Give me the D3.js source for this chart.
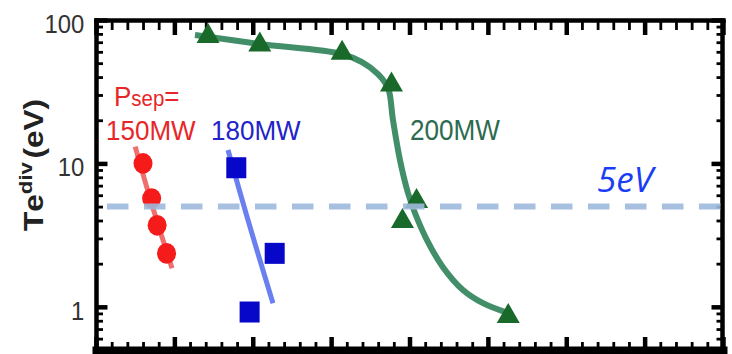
<!DOCTYPE html>
<html>
<head>
<meta charset="utf-8">
<script src="https://cdn.jsdelivr.net/npm/d3@7"></script>
<style>
  body { margin: 0; background: #fff; }
  svg { display: block; }
</style>
</head>
<body>
<svg id="chart" width="732" height="354"></svg>
<script>
// Divertor electron temperature for three separatrix powers (log scale)
const yMajorTicks = [1, 10, 100];
const yTickLabels = ["1", "10", "100"];
const yMinorTicks = [0.6, 0.7, 0.8, 0.9, 2, 3, 4, 5, 6, 7, 8, 9, 20, 30, 40, 50, 60, 70, 80, 90];
const xMajorTicks = [0, 1, 2, 3, 4, 5, 6, 7, 8];

// Psep = 150 MW
const p150X = [0.60, 0.71, 0.78, 0.90];
const p150Y = [10.0, 5.7, 3.7, 2.36];
const p150FitX = [0.50, 0.715, 0.97];
const p150FitY = [13.1, 5.13, 1.86];

// Psep = 180 MW
const p180X = [1.79, 2.28, 1.96];
const p180Y = [9.33, 2.36, 0.92];
const p180FitX = [1.684, 1.939, 2.258];
const p180FitY = [12.4, 4.03, 1.06];

// Psep = 200 MW
const p200X = [1.43, 2.09, 3.14, 3.77, 4.09, 3.91, 5.26];
const p200Y = [76.9, 67.2, 58.9, 35.4, 5.44, 3.95, 0.86];
const p200FitX = [1.263, 2.093, 3.139, 3.394, 3.598, 3.726, 3.789, 3.878, 3.981, 4.070, 4.223, 4.427, 4.682, 4.938, 5.257];
const p200FitY = [78.6, 68.0, 57.9, 50.9, 42.0, 33.6, 20.1, 10.6, 6.22, 4.51, 2.92, 1.89, 1.31, 1.06, 0.905];

const seriesLabels = ["150MW", "180MW", "200MW"];
const thresholdTe = 5;
const thresholdX = [0.14, 7.97];
const thresholdLabel = "5eV";

const svg = d3.select("#chart");
const x = d3.scaleLinear([0, 8], [96, 723]);
const y = d3.scaleLog([0.5, 100], [350, 20]);

const FONT = "'Liberation Sans', Arial, Helvetica, sans-serif";

// x ticks: majors plus five subdivisions each
const xAllTicks = [];
xMajorTicks.forEach((t, i) => {
  if (i < xMajorTicks.length - 1) {
    const step = (xMajorTicks[i + 1] - t) / 5;
    for (let k = 0; k < 5; k++) xAllTicks.push(t + k * step);
  } else xAllTicks.push(t);
});
const yAllTicks = [...yMajorTicks, ...yMinorTicks];
const isMajorY = d => yMajorTicks.includes(d);
const isMajorX = d => xMajorTicks.some(t => Math.abs(t - d) < 1e-9);

function styleAxis(g, isMajor, attr, minorLen, majorLen, sign, domainWidth) {
  g.select(".domain").attr("stroke", "#000").attr("stroke-width", domainWidth)
    .attr("stroke-linecap", "square");
  g.selectAll(".tick line")
    .attr("stroke", "#000")
    .attr(attr, d => sign * (isMajor(d) ? majorLen : minorLen))
    .attr("stroke-width", d => isMajor(d) ? 4.5 : 2.8);
}

// left axis with decade labels
const gLeft = svg.append("g").attr("transform", "translate(96,0)")
  .call(d3.axisLeft(y).tickValues(yAllTicks).tickSizeInner(-7).tickSizeOuter(0)
    .tickPadding(13)
    .tickFormat(d => isMajorY(d) ? yTickLabels[yMajorTicks.indexOf(d)] : ""));
styleAxis(gLeft, isMajorY, "x2", 7, 11.5, 1, 4.5);
gLeft.selectAll(".tick text")
  .attr("font-family", FONT).attr("font-size", 26.5).attr("fill", "#333")
  .attr("dy", "0.46em")
  .attr("transform", "scale(0.9,1)");

// right axis
const gRight = svg.append("g").attr("transform", "translate(722,0)")
  .call(d3.axisRight(y).tickValues(yAllTicks).tickSizeInner(-6).tickSizeOuter(0).tickFormat(""));
styleAxis(gRight, isMajorY, "x2", 5.5, 10.5, -1, 4.5);

// top axis
const gTop = svg.append("g").attr("transform", "translate(0,20)")
  .call(d3.axisTop(x).tickValues(xAllTicks).tickSizeInner(-10).tickSizeOuter(0).tickFormat(""));
styleAxis(gTop, isMajorX, "y2", 10, 15, 1, 4.5);

// bottom axis
const gBottom = svg.append("g").attr("transform", "translate(0,350)")
  .call(d3.axisBottom(x).tickValues(xAllTicks).tickSizeInner(-8).tickSizeOuter(0).tickFormat(""));
styleAxis(gBottom, isMajorX, "y2", 8, 13, -1, 8);
svg.selectAll(".domain").raise();

// fit curves
const line = d3.line().x(d => x(d[0])).y(d => y(d[1])).curve(d3.curveCatmullRom.alpha(0.5));
const fits = [
  { xs: p150FitX, ys: p150FitY, color: "#ef6f6f", w: 5 },
  { xs: p180FitX, ys: p180FitY, color: "#6a7ff0", w: 5 },
  { xs: p200FitX, ys: p200FitY, color: "#428e69", w: 6 }
];
fits.forEach(f => {
  svg.append("path")
    .attr("d", line(d3.zip(f.xs, f.ys)))
    .attr("fill", "none").attr("stroke", f.color).attr("stroke-width", f.w)
    .attr("stroke-linecap", "butt");
});

// markers
svg.append("g").selectAll("ellipse").data(d3.zip(p150X, p150Y)).join("ellipse")
  .attr("cx", d => x(d[0])).attr("cy", d => y(d[1]))
  .attr("rx", 9.5).attr("ry", 10.3).attr("fill", "#f51b1b");

svg.append("g").selectAll("rect").data(d3.zip(p180X, p180Y)).join("rect")
  .attr("x", d => x(d[0]) - 10).attr("y", d => y(d[1]) - 10.5)
  .attr("width", 20).attr("height", 21).attr("fill", "#0707c9");

const tri = "M0,-13.3L11.5,6.7L-11.5,6.7Z";
svg.append("g").selectAll("path").data(d3.zip(p200X, p200Y)).join("path")
  .attr("d", tri)
  .attr("transform", d => `translate(${x(d[0])},${y(d[1])})`)
  .attr("fill", "#18692a");

// 5 eV threshold
svg.append("line")
  .attr("x1", x(thresholdX[0])).attr("x2", x(thresholdX[1]))
  .attr("y1", y(thresholdTe)).attr("y2", y(thresholdTe))
  .attr("stroke", "#9fbadc").attr("stroke-width", 6).attr("opacity", 0.9)
  .attr("stroke-dasharray", "21.5 15.5");

function label(txt, px, py, size, color, sx) {
  return svg.append("text")
    .attr("transform", `translate(${px},${py}) scale(${sx},1)`)
    .attr("font-family", FONT).attr("font-size", size).attr("fill", color)
    .text(txt);
}

// Psep= heading
const ps = svg.append("text")
  .attr("transform", "translate(114,106) scale(0.93,1)")
  .attr("font-family", FONT).attr("font-size", 28).attr("fill", "#e8262a");
ps.append("tspan").text("P");
ps.append("tspan").attr("font-size", 22).text("sep");
ps.append("tspan").text("=");

label(seriesLabels[0], 106, 140, 28, "#e8262a", 0.93);
label(seriesLabels[1], 211, 140, 28, "#2323c9", 0.93);
label(seriesLabels[2], 410, 140, 30, "#2d6b50", 0.87);

svg.append("text")
  .attr("x", 597).attr("y", 192)
  .attr("font-family", "'Open Sans', sans-serif").attr("font-style", "italic")
  .attr("font-size", 35).attr("fill", "#1a3cf5")
  .text(thresholdLabel);

// y axis title
const yt = svg.append("text")
  .attr("transform", "translate(43,231) rotate(-90) scale(1.17,1)")
  .attr("font-family", FONT).attr("font-weight", "bold").attr("font-size", 27).attr("fill", "#222");
yt.append("tspan").text("T");
yt.append("tspan").text("e");
yt.append("tspan").attr("font-size", 19).attr("dy", -11).text("div");
yt.append("tspan").attr("dy", 11).attr("dx", 3).text("(eV)");
</script>
</body>
</html>
